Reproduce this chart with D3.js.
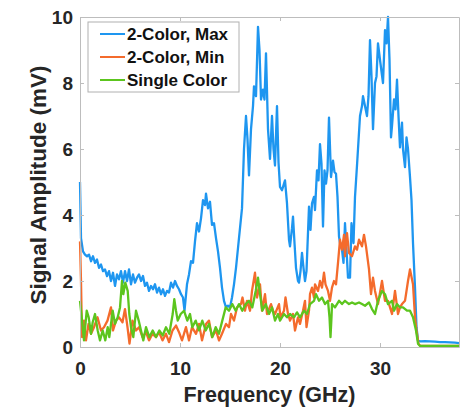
<!DOCTYPE html>
<html>
<head>
<meta charset="utf-8">
<script src="https://cdn.jsdelivr.net/npm/d3@7"></script>
<style>
  body { margin: 0; background: #fff; }
  svg { display: block; font-family: "Liberation Sans", Arial, sans-serif; }
  .axis path, .axis line { stroke: #bdbdbd; }
  .axis text { fill: #262626; font-size: 19px; font-weight: bold; }
  .label-text { fill: #262626; font-weight: bold; }
  .legend-text { fill: #111; font-size: 17px; font-weight: bold; }
</style>
</head>
<body>
<script>
var margin = {top: 17, right: 2, bottom: 61, left: 80},
    width = 461 - margin.left - margin.right,
    height = 408 - margin.top - margin.bottom;

var xTicks = [0, 10, 20, 30];
var yTicks = [0, 2, 4, 6, 8, 10];
var seriesNames = ["2-Color, Max", "2-Color, Min", "Single Color"];
var colors = ["#1e96f0", "#f46b2c", "#5cc51e"];

// frequency (GHz) and amplitude (mV)
var maxFreq = [0.0, 0.1, 0.3, 0.5, 0.7, 0.9, 1.1, 1.3, 1.5, 1.7, 1.9, 2.1, 2.3, 2.5, 2.7, 2.9, 3.1, 3.3, 3.5, 3.7,
    3.9, 4.1, 4.3, 4.5, 4.7, 4.9, 5.1, 5.3, 5.5, 5.7, 5.9, 6.1, 6.3, 6.5, 6.7, 6.9, 7.1, 7.3, 7.5, 7.7,
    7.9, 8.1, 8.3, 8.5, 8.7, 8.9, 9.1, 9.3, 9.5, 9.7, 9.9, 10.1, 10.3, 10.45, 10.7, 10.9, 11.1, 11.3, 11.5, 11.7,
    11.9, 12.1, 12.3, 12.5, 12.6, 12.8, 13.0, 13.2, 13.4, 13.6, 13.8, 14.0, 14.2, 14.4, 14.6, 14.8, 15.0, 15.2, 15.4, 15.6,
    15.8, 16.0, 16.2, 16.4, 16.6, 16.75, 16.9, 17.1, 17.3, 17.4, 17.6, 17.8, 17.95, 18.1, 18.3, 18.45, 18.6, 18.8, 19.0, 19.2,
    19.35, 19.5, 19.7, 19.85, 20.0, 20.2, 20.4, 20.5, 20.7, 20.9, 21.0, 21.2, 21.3, 21.45, 21.6, 21.8, 21.9, 22.05, 22.2, 22.35,
    22.5, 22.65, 22.9, 23.05, 23.2, 23.4, 23.5, 23.7, 23.85, 24.0, 24.15, 24.3, 24.45, 24.6, 24.75, 24.9, 25.1, 25.3, 25.45, 25.6,
    25.75, 25.9, 26.0, 26.2, 26.35, 26.5, 26.65, 26.8, 27.0, 27.15, 27.35, 27.5, 27.7, 27.8, 28.0, 28.2, 28.3, 28.5, 28.7, 28.85,
    29.0, 29.15, 29.3, 29.5, 29.65, 29.8, 30.0, 30.3, 30.5, 30.65, 30.8, 30.95, 31.1, 31.2, 31.4, 31.55, 31.7, 31.85, 32.0, 32.2,
    32.3, 32.5, 32.65, 32.8, 33.0, 33.15, 33.3, 33.5, 33.65, 33.8, 34.0, 34.5, 35.0, 35.5, 36.0, 36.5, 37.0, 37.5, 37.9];
var maxVals = [5.0, 3.3, 2.9, 2.8, 2.75, 2.8, 2.6, 2.75, 2.55, 2.65, 2.4, 2.5, 2.3, 2.35, 2.15, 2.3, 2.0, 2.25, 1.85, 2.2,
    2.05, 2.3, 1.95, 2.3, 2.0, 2.35, 1.9, 2.2, 1.95, 2.1, 2.2, 2.0, 2.15, 1.85, 1.95, 1.7, 1.85, 1.75, 1.9, 1.65,
    1.8, 1.6, 1.75, 1.55, 1.7, 1.65, 1.95, 1.8, 2.0, 1.85, 1.75, 1.6, 1.5, 1.1, 1.9, 2.2, 2.6, 2.55, 3.2, 3.75,
    3.5, 3.9, 4.45, 4.3, 4.65, 4.2, 4.4, 3.7, 3.75, 3.3, 2.9, 2.4, 1.8, 1.4, 1.2, 1.25, 1.2, 1.5, 1.9, 2.4,
    3.0, 3.6, 4.2, 6.0, 7.0, 6.3, 5.2, 6.6, 7.3, 7.9, 7.6, 9.7, 9.0, 7.5, 7.8, 7.5, 8.9, 6.6, 5.7, 7.0,
    6.0, 5.5, 7.3, 5.6, 4.85, 4.75, 4.95, 5.05, 4.35, 3.25, 3.05, 3.6, 3.95, 3.15, 2.4, 2.0, 1.95, 2.3, 2.85, 2.4,
    2.0, 2.3, 4.25, 3.55, 4.35, 4.55, 4.15, 5.35, 5.05, 6.15, 5.55, 3.65, 5.35, 4.95, 5.35, 6.95, 5.15, 5.65, 5.3, 5.25,
    4.55, 3.35, 3.15, 2.95, 2.55, 3.75, 2.95, 2.1, 2.1, 3.75, 3.15, 4.55, 5.5, 6.0, 7.0, 7.3, 7.6, 7.3, 7.0, 7.6,
    9.3, 8.2, 6.6, 8.0, 8.2, 9.2, 8.7, 8.0, 9.6, 9.2, 10.0, 8.7, 6.35, 6.7, 7.5, 7.2, 8.1, 7.0, 6.05, 6.8,
    6.0, 5.45, 6.35, 6.0, 5.15, 4.45, 3.15, 1.8, 0.6, 0.2, 0.17, 0.18, 0.17, 0.16, 0.15, 0.15, 0.14, 0.13, 0.12];

var minFreq = [0.0, 0.1, 0.2, 0.4, 0.6, 0.85, 1.1, 1.4, 1.75, 2.1, 2.4, 2.75, 3.1, 3.3, 3.6, 3.9, 4.25, 4.5, 4.75, 4.95,
    5.25, 5.6, 5.9, 6.25, 6.6, 6.9, 7.25, 7.6, 7.9, 8.25, 8.6, 8.9, 9.25, 9.6, 9.9, 10.2, 10.6, 10.9, 11.2, 11.6,
    11.9, 12.2, 12.6, 12.9, 13.2, 13.6, 13.9, 14.2, 14.6, 14.9, 15.1, 15.4, 15.7, 16.1, 16.25, 16.5, 16.7, 17.0, 17.2, 17.5,
    17.7, 18.0, 18.2, 18.5, 18.7, 19.1, 19.3, 19.5, 19.9, 20.05, 20.4, 20.55, 20.8, 21.0, 21.3, 21.5, 21.8, 22.0, 22.3, 22.5,
    22.65, 22.9, 23.0, 23.2, 23.4, 23.5, 23.8, 24.0, 24.2, 24.4, 24.55, 24.8, 25.0, 25.2, 25.4, 25.6, 25.8, 26.0, 26.2, 26.4,
    26.5, 26.7, 26.9, 27.2, 27.5, 27.7, 27.9, 28.2, 28.4, 28.6, 28.9, 29.1, 29.3, 29.5, 29.8, 30.2, 30.5, 30.8, 31.0, 31.2,
    31.5, 31.8, 32.0, 32.2, 32.5, 32.8, 33.0, 33.3, 33.5, 33.65, 33.85, 34.0, 37.9];
var minVals = [3.2, 2.0, 0.3, 0.8, 0.2, 0.7, 0.4, 0.6, 0.9, 0.5, 0.6, 0.8, 1.2, 0.5, 0.8, 0.9, 0.75, 1.15, 0.6, 0.1,
    0.8, 0.5, 0.6, 0.3, 0.45, 0.2, 0.4, 0.3, 0.45, 0.2, 0.4, 0.15, 0.5, 0.65, 0.45, 0.2, 0.6, 0.2, 0.6, 0.4,
    0.7, 0.2, 0.7, 0.8, 0.3, 0.5, 0.2, 0.4, 0.7, 0.6, 1.0, 0.8, 1.2, 1.3, 1.5, 1.1, 1.4, 1.1, 1.7, 2.25,
    1.5, 1.9, 1.1, 1.6, 1.0, 1.3, 1.1, 1.0, 1.3, 0.9, 1.1, 1.5, 1.0, 0.8, 1.0, 0.5, 0.9, 0.7, 1.1, 1.4,
    0.6, 1.1, 1.6, 1.8, 1.5, 1.9, 1.7, 2.0, 1.8, 2.25, 1.9, 1.7, 1.4, 1.8, 2.0, 1.9, 2.55, 3.25, 2.95, 3.4,
    2.75, 3.45, 2.85, 2.75, 3.05, 2.95, 3.25, 3.05, 3.4, 3.05, 2.35, 1.6, 2.1, 1.7, 1.3, 2.0, 1.4, 1.4, 1.2, 1.0,
    1.7, 1.0, 1.2, 1.3, 1.4, 2.0, 2.35, 1.9, 0.9, 0.5, 0.1, 0.04, 0.03];

var singleFreq = [0.0, 0.1, 0.27, 0.4, 0.67, 0.87, 1.1, 1.27, 1.5, 1.77, 2.0, 2.27, 2.53, 2.77, 2.93, 3.27, 3.5, 3.77, 4.0, 4.2,
    4.33, 4.53, 4.77, 4.93, 5.1, 5.33, 5.6, 5.87, 6.1, 6.33, 6.6, 6.93, 7.27, 7.6, 7.93, 8.27, 8.6, 8.93, 9.27, 9.43,
    9.6, 9.77, 10.07, 10.4, 10.73, 11.0, 11.23, 11.57, 11.9, 12.23, 12.57, 12.9, 13.23, 13.57, 13.9, 14.23, 14.57, 14.9, 15.23, 15.57,
    15.9, 16.23, 16.57, 16.9, 17.23, 17.57, 17.8, 18.0, 18.23, 18.57, 18.9, 19.2, 19.5, 19.8, 20.0, 20.4, 20.7, 21.0, 21.4, 21.7,
    22.0, 22.4, 22.7, 23.0, 23.4, 23.6, 23.9, 24.2, 24.5, 24.8, 24.95, 25.05, 25.15, 25.2, 25.5, 25.9, 26.2, 26.5, 26.9, 27.2,
    27.5, 27.9, 28.2, 28.5, 28.9, 29.2, 29.5, 29.8, 30.2, 30.5, 30.8, 31.2, 31.4, 31.7, 32.0, 32.3, 32.7, 33.0, 33.3, 33.6,
    33.8, 34.0, 37.9];
var singleVals = [1.4, 1.1, 0.6, 0.2, 1.1, 0.9, 0.4, 0.75, 1.0, 0.5, 0.2, 0.5, 0.2, 0.6, 0.3, 1.1, 0.7, 0.9, 1.2, 2.0,
    1.6, 1.95, 1.7, 1.0, 0.6, 0.3, 1.1, 0.8, 0.5, 0.2, 0.6, 0.3, 0.5, 0.3, 0.5, 0.35, 0.6, 0.4, 1.0, 1.45,
    1.1, 0.8, 1.0, 1.1, 0.8, 1.0, 0.6, 0.8, 0.5, 0.8, 0.5, 0.7, 0.3, 0.6, 0.4, 0.8, 1.2, 1.1, 1.3, 1.1,
    1.3, 1.1, 1.3, 1.4, 1.2, 1.7, 2.1, 1.6, 1.1, 1.3, 1.0, 1.2, 0.8, 1.0, 0.8, 1.0, 0.9, 1.0, 0.9, 1.05,
    0.9, 1.1, 1.0, 1.3, 1.4, 1.6, 1.4, 1.5, 1.3, 1.4, 0.9, 0.3, 0.9, 1.3, 1.2, 1.4, 1.3, 1.4, 1.3, 1.35,
    1.3, 1.35, 1.3, 1.25, 1.35, 1.15, 1.0, 1.4, 1.7, 1.6, 1.3, 1.4, 1.1, 1.3, 1.2, 1.2, 1.1, 1.1, 0.9, 0.5,
    0.1, 0.03, 0.03];

var dataset = [
    {name: seriesNames[0], freq: maxFreq, vals: maxVals},
    {name: seriesNames[1], freq: minFreq, vals: minVals},
    {name: seriesNames[2], freq: singleFreq, vals: singleVals}
];

var svg = d3.select("body").append("svg")
    .attr("width", width + margin.left + margin.right)
    .attr("height", height + margin.top + margin.bottom)
    .append("g")
    .attr("transform", "translate(" + margin.left + "," + margin.top + ")");

var x = d3.scaleLinear().domain([0, 37.9]).range([0, width]);
var y = d3.scaleLinear().domain([0, 10]).range([height, 0]);

var line = d3.line()
    .x(function(d) { return x(d[0]); })
    .y(function(d) { return y(d[1]); });

svg.selectAll(".series")
    .data(dataset)
    .enter()
    .append("path")
    .attr("class", "series")
    .attr("fill", "none")
    .attr("stroke", function(d, i) { return colors[i]; })
    .attr("stroke-width", 2.3)
    .attr("stroke-linejoin", "round")
    .attr("d", function(d) {
        return line(d.freq.map(function(f, i) { return [f, d.vals[i]]; }));
    });

// box axes with inward ticks, matlab style
svg.append("g")
    .attr("class", "axis")
    .attr("transform", "translate(0," + height + ")")
    .call(d3.axisBottom(x).tickValues(xTicks).tickSizeInner(-4).tickSizeOuter(0).tickPadding(15));

svg.append("g")
    .attr("class", "axis")
    .call(d3.axisTop(x).tickValues(xTicks).tickSizeInner(-4).tickSizeOuter(0).tickFormat(""));

svg.append("g")
    .attr("class", "axis")
    .call(d3.axisLeft(y).tickValues(yTicks).tickSizeInner(-4).tickSizeOuter(0).tickPadding(7));

svg.append("g")
    .attr("class", "axis")
    .attr("transform", "translate(" + width + ",0)")
    .call(d3.axisRight(y).tickValues(yTicks).tickSizeInner(-4).tickSizeOuter(0).tickFormat(""));

svg.append("text")
    .attr("class", "label-text")
    .attr("x", width / 2)
    .attr("y", height + 55)
    .attr("text-anchor", "middle")
    .style("font-size", "21.5px")
    .text("Frequency (GHz)");

svg.append("text")
    .attr("class", "label-text")
    .attr("transform", "rotate(-90)")
    .attr("x", -height / 2 - 3)
    .attr("y", -34)
    .attr("text-anchor", "middle")
    .style("font-size", "22.5px")
    .text("Signal Amplitude (mV)");

// legend
var legendX = 8, legendY = 5, legendW = 151, legendH = 70, rowGap = 23;

svg.append("rect")
    .attr("x", legendX)
    .attr("y", legendY)
    .attr("width", legendW)
    .attr("height", legendH)
    .attr("fill", "#fff")
    .attr("stroke", "#b0b0b0");

var legend = svg.selectAll(".legend-row")
    .data(seriesNames)
    .enter()
    .append("g")
    .attr("class", "legend-row")
    .attr("transform", function(d, i) {
        return "translate(" + legendX + "," + (legendY + 12 + i * rowGap) + ")";
    });

legend.append("line")
    .attr("x1", 12)
    .attr("x2", 37)
    .attr("stroke", function(d, i) { return colors[i]; })
    .attr("stroke-width", 2);

legend.append("text")
    .attr("class", "legend-text")
    .attr("x", 39)
    .attr("y", 6)
    .text(function(d) { return d; });
</script>
</body>
</html>
